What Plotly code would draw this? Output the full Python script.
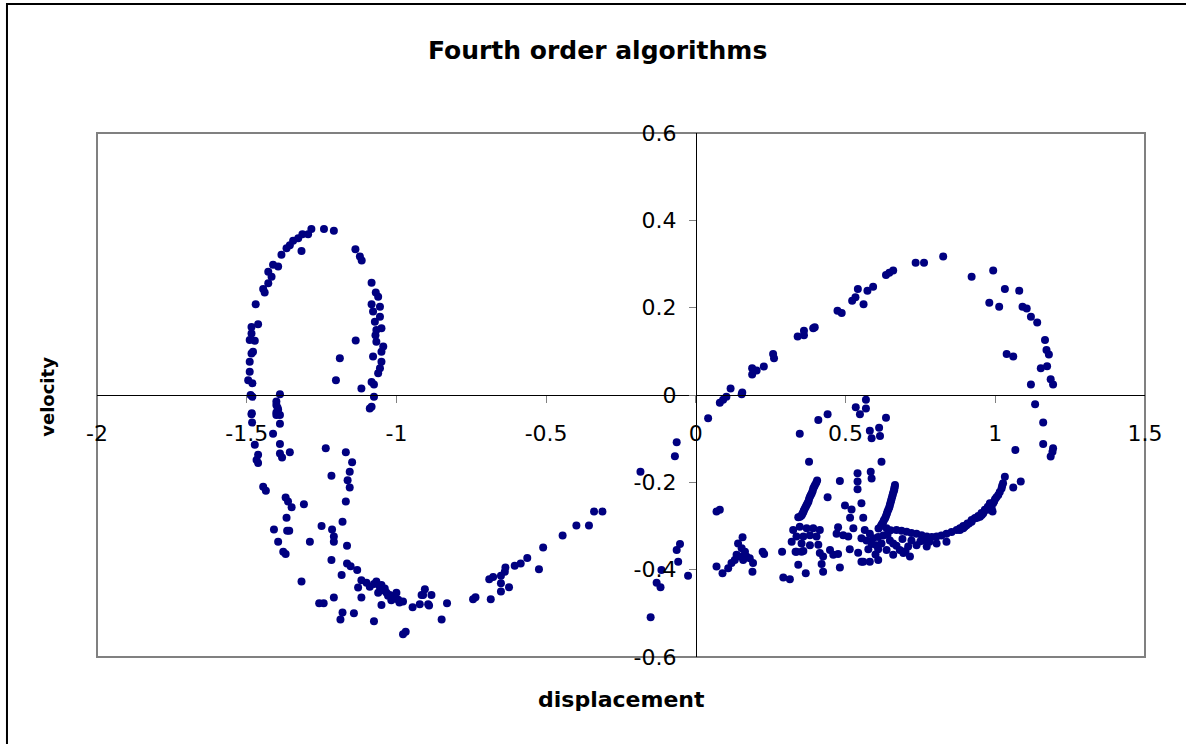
import plotly.graph_objects as go

# (displacement, velocity) pairs
left_loop = [
    (-1.284, 0.380), (-1.242, 0.380), (-1.209, 0.376), (-1.295, 0.368), (-1.314, 0.368),
    (-1.328, 0.359), (-1.345, 0.353), (-1.356, 0.343), (-1.367, 0.336), (-1.317, 0.330),
    (-1.384, 0.321), (-1.137, 0.334), (-1.122, 0.317), (-1.116, 0.308), (-1.395, 0.294),
    (-1.412, 0.298), (-1.428, 0.282), (-1.417, 0.271), (-1.428, 0.256), (-1.445, 0.243),
    (-1.440, 0.235), (-1.470, 0.208), (-1.462, 0.162), (-1.484, 0.156), (-1.484, 0.141),
    (-1.490, 0.126), (-1.473, 0.124), (-1.479, 0.099), (-1.484, 0.095), (-1.490, 0.076),
    (-1.490, 0.053), (-1.495, 0.034), (-1.481, 0.027), (-1.487, 0.000), (-1.481, -0.004),
    (-1.483, -0.042), (-1.389, 0.002), (-1.401, -0.015), (-1.397, -0.029), (-1.401, -0.040),
    (-1.189, 0.084), (-1.136, 0.125), (-1.202, 0.034), (-1.117, 0.015),
    (-1.083, 0.257), (-1.069, 0.235), (-1.061, 0.225), (-1.083, 0.208), (-1.055, 0.202),
    (-1.078, 0.191), (-1.055, 0.179), (-1.072, 0.168), (-1.050, 0.153), (-1.067, 0.149),
    (-1.070, 0.137), (-1.067, 0.122), (-1.044, 0.111), (-1.050, 0.099), (-1.078, 0.088),
    (-1.050, 0.076), (-1.055, 0.061), (-1.061, 0.050), (-1.083, 0.030), (-1.075, 0.024),
    (-1.075, -0.004), (-1.083, -0.027), (-1.089, -0.031),
]

left_lower = [
    (-1.484, -0.044), (-1.482, -0.063), (-1.401, -0.023), (-1.395, -0.034), (-1.401, -0.046),
    (-1.389, -0.046), (-1.389, -0.066), (-1.412, -0.089), (-1.389, -0.112), (-1.473, -0.114),
    (-1.462, -0.137), (-1.462, -0.156), (-1.467, -0.149), (-1.389, -0.134), (-1.382, -0.143),
    (-1.356, -0.131), (-1.445, -0.210), (-1.436, -0.219), (-1.370, -0.235), (-1.362, -0.244),
    (-1.350, -0.257), (-1.309, -0.250), (-1.367, -0.281), (-1.409, -0.308), (-1.365, -0.311),
    (-1.358, -0.311), (-1.395, -0.336), (-1.378, -0.359), (-1.370, -0.364), (-1.289, -0.336),
    (-1.236, -0.122), (-1.169, -0.131), (-1.148, -0.154), (-1.156, -0.176), (-1.163, -0.195),
    (-1.156, -0.212), (-1.217, -0.185), (-1.169, -0.244), (-1.180, -0.290), (-1.250, -0.300),
    (-1.215, -0.308), (-1.209, -0.324), (-1.209, -0.336), (-1.165, -0.345), (-1.217, -0.378),
    (-1.165, -0.386), (-1.153, -0.392), (-1.131, -0.401), (-1.183, -0.412), (-1.317, -0.427),
    (-1.117, -0.424), (-1.128, -0.441), (-1.100, -0.430), (-1.067, -0.427), (-1.050, -0.435),
    (-1.039, -0.443), (-1.033, -0.453), (-1.022, -0.458), (-1.000, -0.453), (-1.011, -0.466),
    (-0.994, -0.469), (-0.978, -0.473), (-1.061, -0.453), (-1.089, -0.439), (-0.946, -0.486),
    (-0.922, -0.479), (-0.911, -0.458), (-0.894, -0.479), (-1.117, -0.464), (-1.050, -0.481),
    (-1.209, -0.464), (-1.258, -0.477), (-1.243, -0.477), (-1.180, -0.498), (-1.187, -0.514),
    (-1.142, -0.500), (-1.075, -0.518), (-0.969, -0.542), (-0.978, -0.548),
    (-1.045, -0.447), (-1.028, -0.460), (-1.005, -0.460), (-1.017, -0.470), (-0.990, -0.475),
    (-1.055, -0.440), (-1.075, -0.433),
]

left_tail = [
    (-0.905, -0.445), (-0.916, -0.458), (-0.883, -0.458), (-0.891, -0.482), (-0.831, -0.477),
    (-0.849, -0.514), (-0.744, -0.468), (-0.736, -0.463), (-0.685, -0.468), (-0.690, -0.422),
    (-0.677, -0.417), (-0.651, -0.414), (-0.638, -0.405), (-0.636, -0.395), (-0.651, -0.431),
    (-0.651, -0.450), (-0.624, -0.440), (-0.605, -0.391), (-0.585, -0.386), (-0.563, -0.373),
    (-0.524, -0.399), (-0.510, -0.349), (-0.445, -0.322), (-0.399, -0.299), (-0.357, -0.299),
    (-0.340, -0.267), (-0.312, -0.267),
]

center_pts = [
    (-0.064, -0.108), (-0.070, -0.140), (-0.185, -0.176), (-0.053, -0.341), (-0.064, -0.355),
    (-0.059, -0.382), (-0.115, -0.401), (-0.026, -0.414), (-0.131, -0.430), (-0.118, -0.440),
    (-0.151, -0.509),
]

right_arc = [
    (0.041, -0.053), (0.080, -0.018), (0.091, -0.011), (0.102, -0.004), (0.116, 0.015),
    (0.155, 0.006), (0.153, 0.002), (0.188, 0.061), (0.203, 0.056), (0.188, 0.047),
    (0.227, 0.065), (0.258, 0.094), (0.261, 0.084), (0.340, 0.134), (0.361, 0.147),
    (0.361, 0.137), (0.397, 0.155), (0.392, 0.153), (0.473, 0.193), (0.487, 0.188),
    (0.522, 0.216), (0.533, 0.224), (0.541, 0.243), (0.560, 0.208), (0.573, 0.239),
    (0.592, 0.248), (0.635, 0.275), (0.646, 0.280), (0.659, 0.285), (0.734, 0.303),
    (0.762, 0.303), (0.826, 0.317), (0.921, 0.271), (0.993, 0.285), (1.032, 0.243),
    (1.080, 0.239), (0.980, 0.211), (1.013, 0.202), (1.091, 0.202), (1.105, 0.198),
    (1.119, 0.179), (1.140, 0.166), (1.166, 0.126), (1.171, 0.103), (1.179, 0.093),
    (1.038, 0.094), (1.060, 0.088), (1.173, 0.066), (1.152, 0.061), (1.185, 0.036),
    (1.193, 0.024), (1.119, 0.024), (1.133, -0.021), (1.160, -0.063), (1.160, -0.112),
    (1.193, -0.122), (1.191, -0.130), (1.185, -0.141), (1.067, -0.126), (1.085, -0.198),
    (1.060, -0.212), (1.032, -0.187),
    (1.026, -0.202), (1.021, -0.214), (1.010, -0.229), (0.999, -0.239), (0.993, -0.248),
    (0.988, -0.260), (0.971, -0.263), (0.960, -0.271), (0.949, -0.279), (0.932, -0.282),
    (0.921, -0.290), (0.904, -0.298), (0.893, -0.305), (0.882, -0.309), (0.991, -0.267),
    (1.023, -0.208), (1.015, -0.222), (1.004, -0.234), (0.996, -0.244), (0.980, -0.262),
    (0.955, -0.275), (0.940, -0.281), (0.912, -0.294), (0.898, -0.302),
]

right_band = [
    (0.637, -0.305), (0.670, -0.309), (0.704, -0.313), (0.737, -0.318), (0.771, -0.324),
    (0.804, -0.324), (0.837, -0.318), (0.871, -0.309), (0.893, -0.300), (0.921, -0.286),
    (0.943, -0.277), (0.965, -0.263), (0.982, -0.248),
    (0.650, -0.310), (0.687, -0.311), (0.720, -0.316), (0.754, -0.321), (0.788, -0.325),
    (0.820, -0.322), (0.854, -0.314), (0.882, -0.305), (0.907, -0.294), (0.932, -0.282),
    (0.954, -0.270), (0.975, -0.256),
    (0.690, -0.330), (0.720, -0.333), (0.750, -0.335), (0.780, -0.336), (0.670, -0.345),
    (0.700, -0.358), (0.760, -0.332), (0.640, -0.320), (0.620, -0.340), (0.600, -0.365),
    (0.659, -0.340), (0.681, -0.355), (0.709, -0.347), (0.737, -0.344), (0.771, -0.347),
    (0.804, -0.340), (0.837, -0.336), (0.659, -0.366), (0.693, -0.362), (0.715, -0.370),
    (0.665, -0.206), (0.663, -0.214), (0.660, -0.222), (0.656, -0.232), (0.652, -0.242),
    (0.648, -0.252), (0.643, -0.262), (0.638, -0.272), (0.632, -0.282), (0.625, -0.292),
    (0.618, -0.300), (0.610, -0.306),
    (0.664, -0.210), (0.662, -0.218), (0.658, -0.227), (0.654, -0.237), (0.650, -0.247),
    (0.646, -0.257), (0.640, -0.267), (0.635, -0.277), (0.628, -0.287), (0.621, -0.296),
    (0.564, -0.309), (0.581, -0.318), (0.553, -0.328), (0.570, -0.333), (0.592, -0.328),
    (0.609, -0.325), (0.587, -0.341), (0.603, -0.344), (0.576, -0.353), (0.609, -0.353),
    (0.559, -0.382), (0.581, -0.382), (0.609, -0.378), (0.637, -0.355), (0.626, -0.322),
    (0.648, -0.333),
]

right_cluster = [
    (0.475, -0.303), (0.470, -0.318), (0.492, -0.321), (0.509, -0.324), (0.526, -0.305),
    (0.514, -0.353), (0.542, -0.361), (0.553, -0.382),
    (0.568, -0.011), (0.534, -0.028), (0.548, -0.044), (0.568, -0.031), (0.440, -0.044),
    (0.409, -0.057), (0.347, -0.089), (0.635, -0.052), (0.612, -0.075), (0.615, -0.094),
    (0.581, -0.082), (0.587, -0.099), (0.620, -0.153), (0.378, -0.153),
    (0.540, -0.179), (0.540, -0.198), (0.540, -0.216), (0.584, -0.176), (0.587, -0.191),
    (0.481, -0.197), (0.440, -0.234), (0.553, -0.248), (0.498, -0.253), (0.520, -0.262),
    (0.515, -0.281), (0.559, -0.281),
    (0.405, -0.196), (0.398, -0.206), (0.392, -0.214), (0.387, -0.225), (0.381, -0.233),
    (0.376, -0.244), (0.370, -0.252), (0.364, -0.260), (0.359, -0.268), (0.353, -0.276),
    (0.342, -0.280),
    (0.402, -0.201), (0.395, -0.210), (0.390, -0.220), (0.384, -0.229), (0.378, -0.238),
    (0.373, -0.248), (0.367, -0.256), (0.361, -0.264), (0.356, -0.272), (0.348, -0.279),
    (0.325, -0.309), (0.347, -0.302), (0.370, -0.305), (0.392, -0.305), (0.414, -0.309),
    (0.336, -0.324), (0.359, -0.324), (0.381, -0.321), (0.403, -0.324), (0.320, -0.336),
    (0.353, -0.340), (0.381, -0.344), (0.409, -0.343), (0.336, -0.359), (0.359, -0.357),
    (0.414, -0.362), (0.425, -0.370), (0.448, -0.355), (0.459, -0.366), (0.475, -0.364),
    (0.342, -0.389), (0.367, -0.408), (0.425, -0.405), (0.420, -0.387), (0.481, -0.395),
    (0.314, -0.422), (0.292, -0.418),
    (0.069, -0.267), (0.080, -0.263), (0.069, -0.393), (0.089, -0.408), (0.108, -0.397),
    (0.119, -0.385), (0.136, -0.366), (0.141, -0.340), (0.156, -0.326), (0.153, -0.351),
    (0.164, -0.359), (0.169, -0.370), (0.158, -0.378), (0.180, -0.374), (0.191, -0.385),
    (0.189, -0.405), (0.147, -0.370), (0.130, -0.378), (0.223, -0.359), (0.228, -0.364),
    (0.288, -0.359), (0.333, -0.359), (0.353, -0.359),
]

x_tick_vals = [-2, -1.5, -1, -0.5, 0, 0.5, 1, 1.5]
x_tick_text = ["-2", "-1.5", "-1", "-0.5", "0", "0.5", "1", "1.5"]
y_tick_vals = [-0.6, -0.4, -0.2, 0, 0.2, 0.4, 0.6]
y_tick_text = ["-0.6", "-0.4", "-0.2", "0", "0.2", "0.4", "0.6"]

title_text = "Fourth order algorithms"
x_title = "displacement"
y_title = "velocity"

groups = [left_loop, left_lower, left_tail, center_pts, right_arc, right_band, right_cluster]
disp = [p[0] for g in groups for p in g]
vel = [p[1] for g in groups for p in g]

FONT = "DejaVu Sans, Arial, sans-serif"

fig = go.Figure()
fig.add_trace(go.Scatter(
    x=disp, y=vel, mode="markers",
    marker=dict(size=8, color="#000080", line=dict(width=0)),
    showlegend=False, hoverinfo="x+y",
))

axis_common = dict(
    showgrid=False, zeroline=False, showline=True, linecolor="black", linewidth=1,
    ticks="outside", ticklen=7, tickcolor="#808080", tickwidth=1,
    tickfont=dict(family=FONT, size=22, color="black"),
    anchor="free",
)

fig.update_layout(
    width=1186, height=744,
    margin=dict(l=97, r=41, t=133, b=87),
    paper_bgcolor="white", plot_bgcolor="white",
    xaxis=dict(range=[-2, 1.5], tickmode="array", tickvals=x_tick_vals, ticktext=x_tick_text,
               position=0.5, ticklabelstandoff=12, **axis_common),
    yaxis=dict(range=[-0.6, 0.6], tickmode="array", tickvals=y_tick_vals, ticktext=y_tick_text,
               position=2 / 3.5, ticklabelstandoff=8, **axis_common),
    shapes=[
        dict(type="rect", xref="paper", yref="paper", x0=0, x1=1, y0=0, y1=1,
             line=dict(color="#808080", width=2), layer="below"),
        dict(type="rect", xref="paper", yref="paper", x0=-0.0859, x1=1.05, y0=-0.2, y1=1.246,
             line=dict(color="black", width=2), layer="above"),
    ],
    annotations=[
        dict(text=title_text, xref="paper", yref="paper", x=0.478, y=1.158,
             xanchor="center", yanchor="middle", showarrow=False,
             font=dict(family=FONT, size=25, color="black", weight="bold")),
        dict(text=x_title, xref="paper", yref="paper", x=0.5, y=-0.082,
             xanchor="center", yanchor="middle", showarrow=False,
             font=dict(family=FONT, size=22, color="black", weight="bold")),
        dict(text=y_title, xref="paper", yref="paper", x=-0.048, y=0.496,
             xanchor="center", yanchor="middle", showarrow=False, textangle=-90,
             font=dict(family=FONT, size=18, color="black", weight="bold")),
    ],
)

fig.write_html("out.html")
